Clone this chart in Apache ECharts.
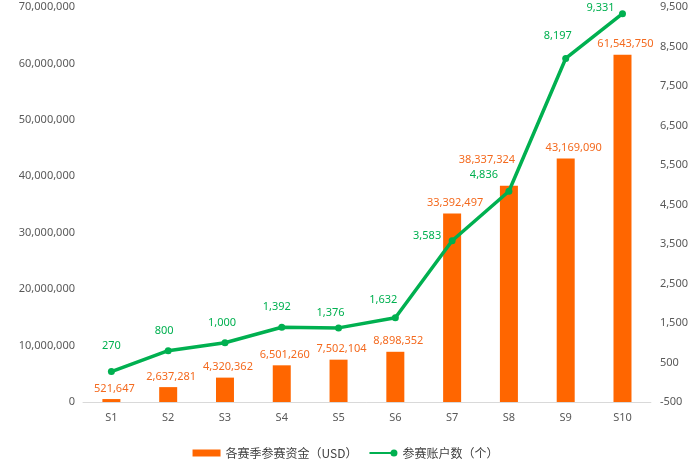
<!DOCTYPE html>
<html>
<head>
<meta charset="utf-8">
<script src="https://cdn.jsdelivr.net/npm/echarts@6/dist/echarts.min.js"></script>
<style>
  html, body { margin: 0; padding: 0; background: #fff; }
  #main { width: 691px; height: 474px; }
</style>
</head>
<body>
<div id="main"></div>
<script>
const seasons = ['S1', 'S2', 'S3', 'S4', 'S5', 'S6', 'S7', 'S8', 'S9', 'S10'];
const prizePool = [521647, 2637281, 4320362, 6501260, 7502104, 8898352, 33392497, 38337324, 43169090, 61543750];
const accounts = [270, 800, 1000, 1392, 1376, 1632, 3583, 4836, 8197, 9331];

const fmt = (v) => Number(v).toLocaleString('en-US');
const labelFont = 'Noto Sans, "Noto Sans CJK SC", sans-serif';

// hand placement of labels, like in the original
const lineLabelOffset = {
  0: [0, -6], 1: [-4, 0], 2: [-3, 0], 3: [-5, 0], 4: [-8, 5],
  5: [-12, 2], 6: [-25, 15], 7: [-25, 4], 8: [-8, -3], 9: [-22, 14],
};
const barLabelOffset = { 7: [-22, -15], 8: [8, 0] };

const chart = echarts.init(document.getElementById('main'));

const option = {
  animation: false,
  textStyle: { fontFamily: labelFont },
  grid: { left: 83, right: 39, top: 7, bottom: 72 },
  legend: {
    bottom: 10,
    left: 'center',
    itemWidth: 28,
    itemHeight: 7,
    itemGap: 12,
    textStyle: { color: '#404040', fontSize: 12, fontFamily: '"Noto Sans CJK SC", sans-serif' },
    data: [
      { name: '各赛季参赛资金（USD）', icon: 'rect' },
      { name: '参赛账户数（个）', icon: 'path://M0,3L24,3L24,5L0,5Z M28,4A3.5,3.5 0 1,1 21,4A3.5,3.5 0 1,1 28,4Z' },
    ],
  },
  xAxis: {
    type: 'category',
    data: seasons,
    axisLine: { lineStyle: { color: '#D9D9D9', width: 1 } },
    axisTick: { show: false },
    axisLabel: { color: '#595959', fontSize: 11, margin: 10 },
  },
  yAxis: [
    {
      type: 'value',
      min: 0,
      max: 70000000,
      interval: 10000000,
      splitLine: { show: false },
      axisLine: { show: false },
      axisTick: { show: false },
      axisLabel: { color: '#595959', fontSize: 11, margin: 8, formatter: fmt },
    },
    {
      type: 'value',
      min: -500,
      max: 9500,
      interval: 1000,
      splitLine: { show: false },
      axisLine: { show: false },
      axisTick: { show: false },
      axisLabel: { color: '#595959', fontSize: 11, margin: 9, formatter: fmt },
    },
  ],
  series: [
    {
      name: '各赛季参赛资金（USD）',
      type: 'bar',
      barWidth: 18,
      itemStyle: { color: '#FF6600' },
      label: {
        show: true,
        position: 'top',
        distance: 5,
        color: '#F46A1F',
        fontSize: 11,
        formatter: (p) => fmt(p.value),
      },
      data: prizePool.map((v, i) => ({
        value: v,
        label: { offset: barLabelOffset[i] || [3, 0] },
      })),
    },
    {
      name: '参赛账户数（个）',
      type: 'line',
      yAxisIndex: 1,
      symbol: 'circle',
      symbolSize: 7,
      lineStyle: { color: '#00B050', width: 3.5 },
      itemStyle: { color: '#00B050' },
      label: {
        show: true,
        position: 'top',
        distance: 11,
        color: '#00B050',
        fontSize: 11,
        formatter: (p) => fmt(p.value),
      },
      data: accounts.map((v, i) => ({
        value: v,
        label: { offset: lineLabelOffset[i] || [0, 0] },
      })),
    },
  ],
};

chart.setOption(option);
</script>
</body>
</html>
